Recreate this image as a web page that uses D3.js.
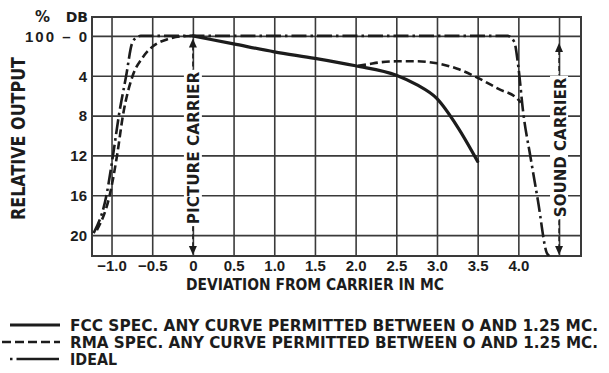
<!DOCTYPE html>
<html>
<head>
<meta charset="utf-8">
<script src="https://cdn.jsdelivr.net/npm/d3@7"></script>
<style>
  body { margin: 0; background: #fff; }
  svg { display: block; font-family: "DejaVu Sans", "Liberation Sans", sans-serif; }
</style>
</head>
<body>
<div id="chart"></div>
<script>
// tick positions and labels
const xTicks = [-1.0, -0.5, 0, 0.5, 1.0, 1.5, 2.0, 2.5, 3.0, 3.5, 4.0, 4.5];
const xTickLabels = ["\u22121.0", "\u22120.5", "0", "0.5", "1.0", "1.5", "2.0", "2.5", "3.0", "3.5", "4.0", ""];
const yTicks = [0, 4, 8, 12, 16, 20];
const yTickLabels = ["100 \u2013 0", "4", "8", "12", "16", "20"];

// FCC spec (solid)
const fccX = [0, 0.5, 1.0, 1.5, 2.0, 2.5, 2.75, 3.0, 3.25, 3.5];
const fccDb = [0, 0.8, 1.6, 2.25, 3.0, 3.95, 4.9, 6.3, 9.1, 12.6];

// RMA spec (dashed), lower side and upper side (between they follow FCC)
const rmaLowX = [-1.18, -1.02, -0.93, -0.86, -0.74, -0.62, -0.5, -0.32, -0.15, 0];
const rmaLowDb = [19.5, 15.9, 11.9, 8.0, 4.0, 2.2, 1.1, 0.35, 0.05, 0];
const rmaHighX = [2.03, 2.15, 2.3, 2.5, 2.75, 3.0, 3.25, 3.5, 3.75, 4.0, 4.03];
const rmaHighDb = [3.0, 2.85, 2.65, 2.55, 2.55, 2.75, 3.3, 4.2, 5.3, 6.4, 6.7];

// ideal (dash-dot)
const idealX = [-1.22, -1.06, -0.98, -0.91, -0.82, -0.75, -0.70, -0.64, 3.87, 3.95, 4.0, 4.06, 4.15, 4.24, 4.35, 4.38];
const idealDb = [19.8, 15.9, 11.9, 8.0, 4.0, 0.8, 0.2, 0, 0, 0.6, 3.1, 7.7, 12.2, 16.5, 21.8, 22.1];

const legendLabels = [
  "FCC SPEC. ANY CURVE PERMITTED BETWEEN O AND 1.25 MC.",
  "RMA SPEC. ANY CURVE PERMITTED BETWEEN O AND 1.25 MC.",
  "IDEAL"
];

const width = 609, height = 373;
const ink = "#1c1c1c", gridCol = "#3a3a3a";

const x = d3.scaleLinear().domain([-1.24, 4.77]).range([92, 581]);
const y = d3.scaleLinear().domain([-1.9, 22.1]).range([17, 256]);

const svg = d3.select("#chart").append("svg")
  .attr("width", width)
  .attr("height", height);

svg.append("rect").attr("width", width).attr("height", height).attr("fill", "#fff");

svg.append("defs").append("clipPath").attr("id", "plotClip")
  .append("rect")
  .attr("x", x.range()[0]).attr("y", y.range()[0])
  .attr("width", x.range()[1] - x.range()[0])
  .attr("height", y.range()[1] - y.range()[0]);

// grid + axes
const xAxis = svg.append("g")
  .attr("transform", `translate(0,${y.range()[1]})`)
  .call(d3.axisBottom(x)
    .tickValues(xTicks)
    .tickSize(-(y.range()[1] - y.range()[0]))
    .tickPadding(4)
    .tickFormat((d, i) => xTickLabels[i]));

const yAxis = svg.append("g")
  .attr("transform", `translate(${x.range()[0]},0)`)
  .call(d3.axisLeft(y)
    .tickValues(yTicks)
    .tickSize(-(x.range()[1] - x.range()[0]))
    .tickPadding(5)
    .tickFormat((d, i) => yTickLabels[i]));

[xAxis, yAxis].forEach(g => {
  g.select(".domain").remove();
  g.selectAll(".tick line").attr("stroke", gridCol).attr("stroke-width", 1.6);
  g.selectAll(".tick text")
    .attr("fill", ink)
    .style("font-size", "15px")
    .style("font-weight", "bold");
});
yAxis.selectAll(".tick text").attr("dy", "0.36em");
// the 100 - 0 label is spread wider in the original lettering
yAxis.selectAll(".tick text").filter((d, i) => i === 0)
  .attr("textLength", 62).attr("lengthAdjust", "spacing");

// frame
svg.append("rect")
  .attr("x", x.range()[0]).attr("y", y.range()[0])
  .attr("width", x.range()[1] - x.range()[0])
  .attr("height", y.range()[1] - y.range()[0])
  .attr("fill", "none")
  .attr("stroke", gridCol)
  .attr("stroke-width", 2);

// carrier markers
function carrier(xv, yTop, textTop, textBottom, label, gap) {
  const cx = x(xv);
  const g = svg.append("g");
  const tTop = y(textTop), tBot = y(textBottom);
  g.append("rect")
    .attr("x", cx - 9).attr("y", tTop - 2)
    .attr("width", 18).attr("height", tBot - tTop + 4)
    .attr("fill", "#fff");
  g.append("line")
    .attr("x1", cx).attr("x2", cx)
    .attr("y1", y(yTop) + 8).attr("y2", tTop - gap)
    .attr("stroke", ink).attr("stroke-width", 1.4)
    .attr("stroke-dasharray", "5,3");
  g.append("line")
    .attr("x1", cx).attr("x2", cx)
    .attr("y1", tBot + gap).attr("y2", y.range()[1] - 8)
    .attr("stroke", ink).attr("stroke-width", 1.4)
    .attr("stroke-dasharray", "5,3");
  const yt = y(yTop) + 1;
  g.append("path")
    .attr("d", `M${cx},${yt} L${cx - 4},${yt + 9} L${cx + 4},${yt + 9} Z`)
    .attr("fill", ink);
  const yb = y.range()[1] - 1;
  g.append("path")
    .attr("d", `M${cx},${yb} L${cx - 4},${yb - 9} L${cx + 4},${yb - 9} Z`)
    .attr("fill", ink);
  g.append("text")
    .attr("transform", `translate(${cx + 6.5},${tBot}) rotate(-90)`)
    .attr("textLength", tBot - tTop)
    .attr("lengthAdjust", "spacingAndGlyphs")
    .attr("fill", ink)
    .style("font-size", "16px")
    .style("font-weight", "bold")
    .text(label);
}
carrier(0, 0.15, 3.6, 18.9, "PICTURE CARRIER", 2);
carrier(4.5, 0.6, 4.2, 18.2, "SOUND CARRIER", 3);

// curves
const plot = svg.append("g").attr("clip-path", "url(#plotClip)");
const line = d3.line()
  .x(d => x(d[0]))
  .y(d => y(d[1]))
  .curve(d3.curveMonotoneX);

const zip = (a, b) => a.map((v, i) => [v, b[i]]);

plot.append("path")
  .datum(zip(fccX, fccDb))
  .attr("d", line)
  .attr("fill", "none").attr("stroke", ink).attr("stroke-width", 3.2)
  .attr("stroke-linecap", "round");

[zip(rmaLowX, rmaLowDb), zip(rmaHighX, rmaHighDb)].forEach(pts => {
  plot.append("path")
    .datum(pts)
    .attr("d", line)
    .attr("fill", "none").attr("stroke", ink).attr("stroke-width", 2.6)
    .attr("stroke-dasharray", "8,4");
});

plot.append("path")
  .datum(zip(idealX, idealDb))
  .attr("d", line)
  .attr("fill", "none").attr("stroke", ink).attr("stroke-width", 2.6)
  .attr("stroke-dasharray", "15,4,2.5,4");

// axis titles
svg.append("text")
  .attr("x", 186).attr("y", 290)
  .attr("textLength", 258).attr("lengthAdjust", "spacingAndGlyphs")
  .attr("fill", ink)
  .style("font-size", "16px").style("font-weight", "bold")
  .text("DEVIATION FROM CARRIER IN MC");

svg.append("text")
  .attr("transform", "translate(25,220) rotate(-90)")
  .attr("textLength", 163).attr("lengthAdjust", "spacingAndGlyphs")
  .attr("fill", ink)
  .style("font-size", "19px").style("font-weight", "bold")
  .text("RELATIVE OUTPUT");

svg.append("text")
  .attr("x", 35).attr("y", 22)
  .attr("fill", ink)
  .style("font-size", "15px").style("font-weight", "bold")
  .text("%");
svg.append("text")
  .attr("x", 88).attr("y", 22)
  .attr("text-anchor", "end")
  .attr("fill", ink)
  .style("font-size", "14px").style("font-weight", "bold")
  .text("DB");

// legend
const legendDash = ["", "9,4", "2.5,4,40,0"];
const legendWidth = [3, 2.6, 2.6];
const legendTextLen = [528, 528, 47];
legendLabels.forEach((lab, i) => {
  const ly = 325 + i * 17;
  svg.append("line")
    .attr("x1", i === 1 ? 2 : 10).attr("x2", 60)
    .attr("y1", ly).attr("y2", ly)
    .attr("stroke", ink).attr("stroke-width", legendWidth[i])
    .attr("stroke-dasharray", legendDash[i] || null);
  svg.append("text")
    .attr("x", 70).attr("y", ly + 5.5)
    .attr("textLength", legendTextLen[i]).attr("lengthAdjust", "spacingAndGlyphs")
    .attr("fill", ink)
    .style("font-size", "15px").style("font-weight", "bold")
    .text(lab);
});
</script>
</body>
</html>
